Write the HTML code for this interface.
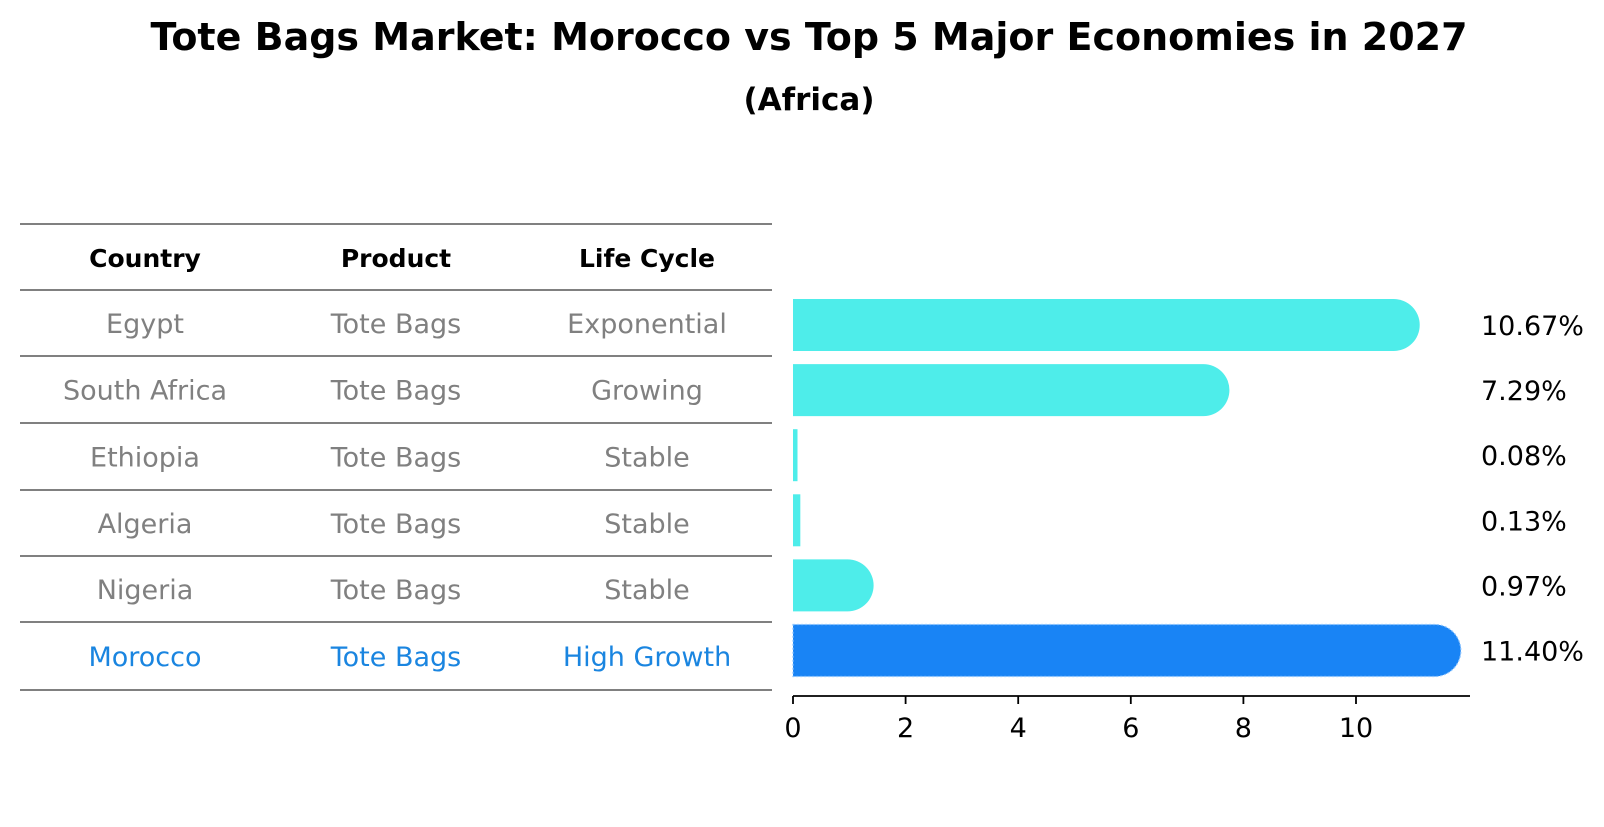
<!DOCTYPE html>
<html><head><meta charset="utf-8"><style>
body{margin:0;background:#fff;font-family:"DejaVu Sans","Liberation Sans",sans-serif}
</style></head><body>
<svg id="c" width="1604" height="823" viewBox="0 0 1604 823" xmlns="http://www.w3.org/2000/svg" style="font-family:'DejaVu Sans','Liberation Sans',sans-serif">
<text x="809" y="50" text-anchor="middle" font-size="38" font-weight="bold">Tote Bags Market: Morocco vs Top 5 Major Economies in 2027</text>
<text x="809" y="110" text-anchor="middle" font-size="31" font-weight="bold">(Africa)</text>
<g id="tbl"></g>
<g id="bars"></g>
<g id="axis"></g>
</svg>
<script>
const countries=["Egypt","South Africa","Ethiopia","Algeria","Nigeria","Morocco"];
const products=["Tote Bags","Tote Bags","Tote Bags","Tote Bags","Tote Bags","Tote Bags"];
const lifeCycles=["Exponential","Growing","Stable","Stable","Stable","High Growth"];
const values=[10.67,7.29,0.08,0.13,0.97,11.40];
const ticks=[0,2,4,6,8,10];
const NS="http://www.w3.org/2000/svg";
function mk(t,a,p,txt){const e=document.createElementNS(NS,t);for(const k in a)e.setAttribute(k,a[k]);if(txt!==undefined)e.textContent=txt;p.appendChild(e);return e;}
const x0=793,sc=56.3;const xs=v=>x0+v*sc;
const rowY=i=>325+i*65.1;
const tbl=document.getElementById('tbl'),bars=document.getElementById('bars'),axis=document.getElementById('axis');
const lines=[224,290,356,423,490,556,622,690];
lines.forEach(y=>{const l=mk('line',{x1:20,x2:772,y1:y,y2:y,stroke:'#000','stroke-width':1},tbl);

});
const cx=[145,396,647];
["Country","Product","Life Cycle"].forEach((h,j)=>{const t=mk('text',{x:cx[j],y:(lines[0]+lines[1])/2+10,'text-anchor':'middle','font-size':25,'font-weight':'bold'},tbl,h);

});
countries.forEach((c,i)=>{
 const hi=i===countries.length-1;
 const col=hi?'#1a85e0':'#808080';
 const ty=(lines[i+1]+lines[i+2])/2+10;
 [c,products[i],lifeCycles[i]].forEach((s,j)=>{const t=mk('text',{x:cx[j],y:ty,'text-anchor':'middle','font-size':27,fill:col},tbl,s);
 
 });
 const fill=hi?'#1984F5':'#4EEDEA';
 const y=rowY(i),w=xs(values[i])-x0,h=52;
 const g=mk('g',{},bars);
 
 
 const extra=hi?{stroke:'#8cc4ff','stroke-width':1.2,'stroke-dasharray':'2 2'}:{};
 if(w>26){
   const r=h/2;
   const d=`M${x0},${y-r} H${x0+w} A${r},${r} 0 0 1 ${x0+w},${y+r} H${x0} Z`;
   const p=mk('path',Object.assign({d:d,fill:fill},extra),g);
 } else mk('rect',{x:x0,y:y-h/2,width:Math.max(w,1),height:h,fill:fill},g);
 const t=mk('text',{x:1481,y:y+10,'font-size':27},bars,values[i].toFixed(2)+'%');
 
 
});
mk('line',{x1:x0,x2:1470,y1:696,y2:696,stroke:'#000','stroke-width':1.8},axis);
ticks.forEach(v=>{mk('line',{x1:xs(v),x2:xs(v),y1:696,y2:704,stroke:'#000','stroke-width':1.8},axis);
const t=mk('text',{x:xs(v),y:737,'text-anchor':'middle','font-size':27},axis,String(v));

});
</script>
</body></html>
